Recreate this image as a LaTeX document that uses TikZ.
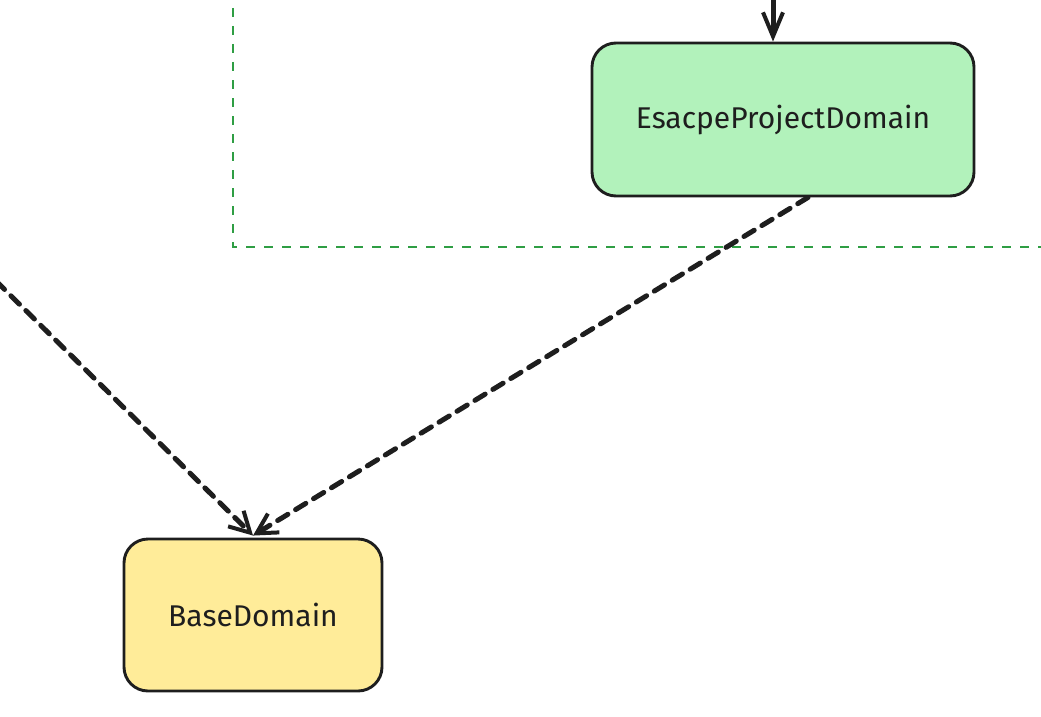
\documentclass[tikz,border=0pt]{standalone}
\usepackage{fontspec}
\setmainfont{Fira Sans}
\usetikzlibrary{arrows.meta,calc}
\definecolor{boxgreen}{HTML}{B2F2BB}
\definecolor{boxyellow}{HTML}{FFEC99}
\definecolor{framegreen}{HTML}{2F9E44}
\definecolor{ink}{HTML}{1E1E1E}
\begin{document}
\begin{tikzpicture}[x=1pt,y=1pt,
  domainbox/.style={draw=ink,line width=2.9pt,rounded corners=24pt,inner sep=0pt,
    font=\fontsize{30}{34}\selectfont,text=ink},
  deparrow/.style={draw=ink,line width=5pt,dash pattern=on 12pt off 9pt,line cap=round,
    -{Straight Barb[length=20pt,width=22pt,line width=4pt]}},
  solidarrow/.style={draw=ink,line width=5pt,
    -{Straight Barb[length=24pt,width=20pt,line width=4pt]}},
  groupframe/.style={draw=framegreen,line width=2.8pt,dash pattern=on 9pt off 9pt}]
\useasboundingbox (0,0) rectangle (1041,-717);
\begin{scope}
\clip (0,0) rectangle (1041,-717);
\draw[groupframe] (233,10) -- (233,-247) -- (1060,-247);
\end{scope}
\node[domainbox,fill=boxgreen,minimum width=382pt,minimum height=153pt] (epd) at (783,-119.5) {\raisebox{-1.5pt}{EsacpeProjectDomain}};
\node[domainbox,fill=boxyellow,minimum width=258pt,minimum height=152pt] (bd) at (253,-615) {BaseDomain};
\coordinate (topin) at (773,2);
\coordinate (leftin) at (-4,-281);
\draw[solidarrow] (topin) -- (epd.north -| topin);
\draw[deparrow] ($(epd.south)+(25,0)$) -- ($(bd.north)+(0,2)$);
\draw[deparrow] (leftin) -- ($(bd.north)+(0,2)$);
\end{tikzpicture}
\end{document}
